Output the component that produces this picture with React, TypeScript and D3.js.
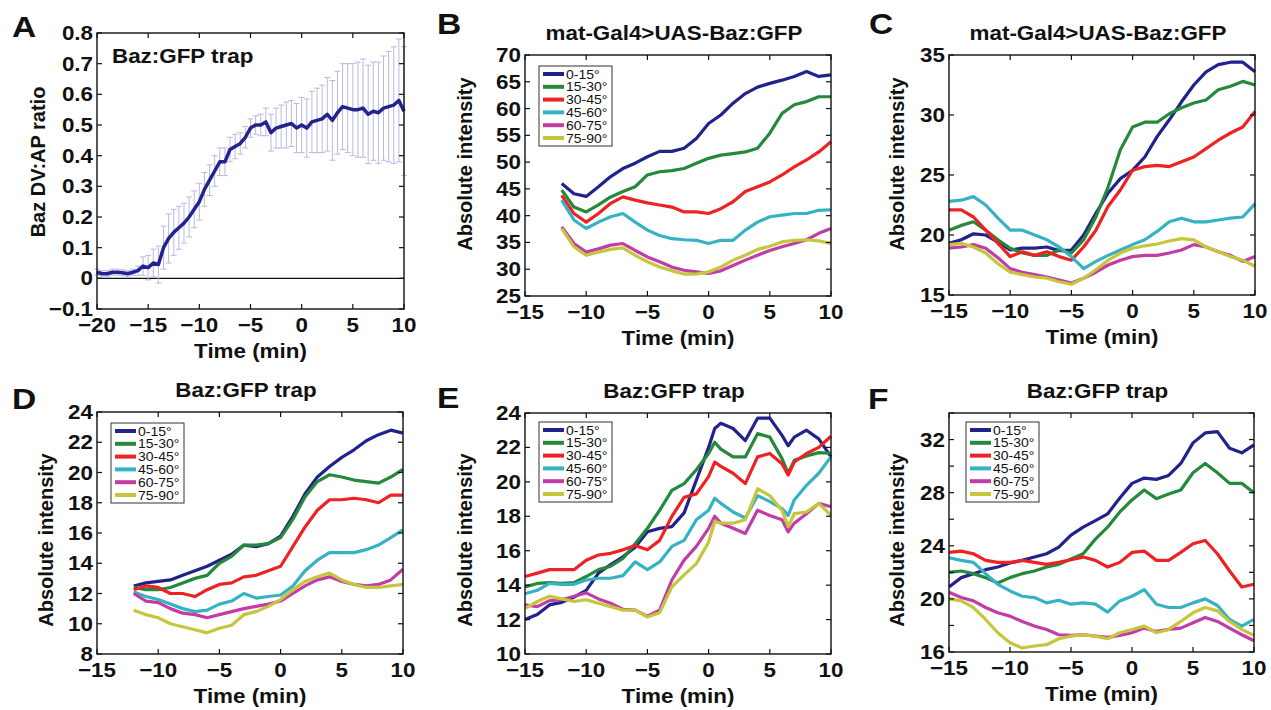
import React from "react";
import * as d3 from "d3";

const FONT = "'Liberation Sans', Arial, Helvetica, sans-serif";

const seriesNames = ["0-15°", "15-30°", "30-45°", "45-60°", "60-75°", "75-90°"];
const seriesColors = ["#22228c", "#24893a", "#ee2222", "#35b2c4", "#c23ca6", "#c6c63c"];

// panel A: Baz DV:AP ratio, mean and error bars
const timesA = [-20, -19.5, -19, -18.5, -18, -17.5, -17, -16.5, -16, -15.5, -15, -14.5, -14, -13.5, -13, -12.5, -12, -11.5, -11, -10.5, -10, -9.5, -9, -8.5, -8, -7.5, -7, -6.5, -6, -5.5, -5, -4.5, -4, -3.5, -3, -2.5, -2, -1.5, -1, -0.5, 0, 0.5, 1, 1.5, 2, 2.5, 3, 3.5, 4, 4.5, 5, 5.5, 6, 6.5, 7, 7.5, 8, 8.5, 9, 9.5, 10];
const ratioA = [0.02, 0.015, 0.015, 0.02, 0.02, 0.018, 0.015, 0.02, 0.025, 0.04, 0.035, 0.05, 0.045, 0.1, 0.13, 0.15, 0.165, 0.18, 0.2, 0.225, 0.25, 0.29, 0.32, 0.35, 0.38, 0.38, 0.42, 0.43, 0.44, 0.46, 0.49, 0.5, 0.5, 0.51, 0.475, 0.49, 0.495, 0.5, 0.505, 0.49, 0.5, 0.49, 0.51, 0.515, 0.52, 0.535, 0.515, 0.54, 0.56, 0.555, 0.55, 0.55, 0.555, 0.535, 0.545, 0.54, 0.555, 0.56, 0.565, 0.58, 0.545];
const errA = [0.01, 0.01, 0.01, 0.01, 0.01, 0.01, 0.01, 0.01, 0.015, 0.03, 0.04, 0.045, 0.06, 0.07, 0.08, 0.075, 0.07, 0.065, 0.065, 0.06, 0.06, 0.055, 0.05, 0.05, 0.045, 0.045, 0.04, 0.04, 0.035, 0.035, 0.03, 0.03, 0.035, 0.045, 0.06, 0.065, 0.07, 0.075, 0.075, 0.08, 0.09, 0.095, 0.1, 0.105, 0.11, 0.12, 0.13, 0.135, 0.14, 0.145, 0.15, 0.155, 0.16, 0.16, 0.16, 0.165, 0.17, 0.18, 0.19, 0.2, 0.21];

// panels B and D start at -12 min
const timesB = [-12, -11, -10, -9, -8, -7, -6, -5, -4, -3, -2, -1, 0, 1, 2, 3, 4, 5, 6, 7, 8, 9, 10];
const valuesB = [
  [46, 44.1, 43.6, 45.4, 47.3, 48.8, 49.8, 51, 52, 52, 52.6, 54.4, 57.2, 58.8, 61, 62.8, 64, 64.7, 65.3, 66, 66.9, 66, 66.3],
  [44.8, 41.6, 40.7, 42, 43.5, 44.5, 45.4, 47.6, 48.2, 48.4, 48.8, 49.8, 50.7, 51.3, 51.6, 51.9, 52.6, 55.4, 59.1, 60.7, 61.3, 62.2, 62.2],
  [43.8, 40.4, 38.8, 40.4, 42.3, 43.5, 42.9, 42.4, 42, 41.6, 40.7, 40.7, 40.4, 41.3, 42.6, 44.5, 45.4, 46.3, 47.6, 49.1, 50.4, 51.9, 53.8],
  [42.9, 39.2, 37.6, 38.8, 39.8, 40.4, 38.8, 37.3, 36.3, 35.7, 35.5, 35.4, 34.8, 35.4, 35.4, 37.3, 38.8, 39.8, 40.1, 40.4, 40.4, 41, 41.1],
  [37.9, 34.8, 33.2, 33.8, 34.5, 34.8, 33.5, 32.3, 31.4, 30.4, 29.8, 29.5, 29.2, 29.7, 30.7, 31.7, 32.6, 33.5, 34.2, 34.8, 35.5, 36.7, 37.6],
  [37.6, 34.2, 32.6, 33.2, 33.7, 34, 32.6, 31.4, 30.4, 29.7, 29.1, 29.1, 29.5, 30.4, 31.7, 32.6, 33.7, 34.3, 35.1, 35.4, 35.5, 35.3, 34.8],
];

const timesC = [-15, -14, -13, -12, -11, -10, -9, -8, -7, -6, -5, -4, -3, -2, -1, 0, 1, 2, 3, 4, 5, 6, 7, 8, 9, 10];
const valuesC = [
  [19.3, 19.6, 20.1, 20, 19.4, 18.75, 18.9, 18.9, 19, 18.7, 18.75, 20, 21.8, 23.5, 24.7, 25.4, 26.5, 28.2, 29.6, 31.1, 32.5, 33.6, 34.2, 34.4, 34.4, 33.6],
  [20.4, 20.8, 21.1, 20.4, 19.6, 18.9, 18.5, 18.3, 18.3, 18.75, 18.5, 19.6, 21.5, 24, 27.1, 29, 29.4, 29.4, 30.1, 30.6, 31, 31.25, 32.1, 32.4, 32.8, 32.5],
  [22.1, 22.1, 21.5, 20.4, 19.3, 18.2, 18.6, 18.3, 18.6, 18.2, 17.9, 19, 20.4, 22.4, 23.75, 25.4, 25.7, 25.8, 25.7, 26.1, 26.5, 27.2, 27.9, 28.5, 29, 30.3],
  [22.8, 22.9, 23.2, 22.5, 21.4, 20.4, 20.4, 20, 19.6, 19, 18.2, 17.2, 17.8, 18.3, 18.75, 19.2, 19.6, 20.3, 21.1, 21.4, 21.1, 21.1, 21.25, 21.4, 21.5, 22.6],
  [18.9, 19, 19.2, 18.9, 18.1, 17.2, 16.9, 16.7, 16.5, 16.25, 16, 16.4, 16.9, 17.5, 17.9, 18.2, 18.3, 18.3, 18.5, 18.75, 19.2, 19, 18.6, 18.3, 17.8, 18.2],
  [19.2, 19.3, 19, 18.5, 17.6, 16.9, 16.7, 16.5, 16.4, 16.1, 15.9, 16.4, 17.1, 17.9, 18.5, 18.9, 19.1, 19.25, 19.5, 19.7, 19.6, 19, 18.6, 18.2, 17.9, 17.4],
];

const timesD = [-12, -11, -10, -9, -8, -7, -6, -5, -4, -3, -2, -1, 0, 1, 2, 3, 4, 5, 6, 7, 8, 9, 10];
const valuesD = [
  [12.5, 12.7, 12.8, 12.9, 13.2, 13.5, 13.8, 14.2, 14.6, 15.2, 15.1, 15.3, 15.8, 17.1, 18.6, 19.7, 20.4, 21, 21.5, 22.1, 22.5, 22.8, 22.6],
  [12.4, 12.25, 12.25, 12.4, 12.7, 13, 13.2, 14, 14.45, 15.2, 15.2, 15.3, 15.7, 16.9, 18.4, 19.4, 19.85, 19.7, 19.5, 19.4, 19.3, 19.7, 20.2],
  [12.25, 12.5, 12.4, 12, 12, 11.8, 12.25, 12.6, 12.7, 13.1, 13.2, 13.5, 13.8, 15.1, 16.4, 17.5, 18.2, 18.2, 18.3, 18.2, 18, 18.5, 18.5],
  [12.1, 11.8, 11.6, 11.3, 11, 10.8, 10.9, 11.3, 11.5, 12, 11.7, 11.8, 11.9, 12.5, 13.5, 14.2, 14.7, 14.7, 14.7, 14.9, 15.2, 15.7, 16.2],
  [12, 11.5, 11.4, 11, 10.7, 10.6, 10.4, 10.6, 10.8, 11, 11.15, 11.3, 11.5, 12, 12.5, 12.9, 13.1, 12.8, 12.6, 12.5, 12.6, 12.9, 13.6],
  [10.9, 10.6, 10.4, 10, 9.8, 9.6, 9.4, 9.7, 9.9, 10.6, 10.8, 11.15, 11.6, 12.25, 12.8, 13.1, 13.35, 12.9, 12.6, 12.4, 12.4, 12.5, 12.6],
];

const timesE = [-15, -14, -13, -12, -11, -10, -9, -8, -7, -6, -5, -4, -3, -2, -1, 0, 0.5, 1, 2, 3, 4, 5, 6, 6.5, 7, 8, 9, 10];
const valuesE = [
  [12, 12.3, 12.85, 13, 13.3, 13.7, 14.7, 15.2, 15.65, 16.2, 17.1, 17.3, 17.4, 18.2, 20.1, 22, 23.1, 23.4, 23.1, 22.4, 23.7, 23.7, 22.7, 22.1, 22.6, 23, 22.5, 21.45],
  [13.9, 14.1, 14.15, 14.1, 14.15, 14.5, 14.9, 15.1, 15.55, 16.4, 17.3, 18.35, 19.5, 19.9, 20.7, 21.65, 22.3, 21.9, 21.45, 21.45, 22.8, 22.6, 21.35, 20.5, 21.25, 21.5, 21.7, 21.65],
  [14.5, 14.7, 14.9, 14.9, 14.9, 15.45, 15.75, 15.85, 16.05, 16.3, 16.05, 16.6, 18, 19.1, 19.3, 20.3, 21.15, 20.9, 20.5, 19.9, 21.45, 21.65, 21.05, 20.4, 21.15, 21.65, 22, 22.65],
  [13.5, 13.7, 14.1, 14.05, 14.05, 14.3, 14.4, 14.4, 14.55, 15.35, 14.9, 15.35, 16.25, 16.6, 17.8, 18.35, 19.05, 18.75, 18.25, 17.9, 19.2, 18.85, 18.45, 18.05, 18.95, 19.8, 20.5, 21.45],
  [12.85, 12.75, 13.1, 13.15, 13.35, 13.55, 13.2, 12.95, 12.6, 12.55, 12.2, 12.55, 14.3, 15.45, 16.25, 17.3, 18, 17.6, 17.3, 17, 18.35, 18.05, 17.8, 17.1, 17.6, 18.15, 18.75, 18.55],
  [12.65, 13.05, 13.35, 13.2, 13.05, 13.15, 12.95, 12.75, 12.55, 12.55, 12.15, 12.4, 13.9, 14.6, 15.25, 16.5, 17.7, 17.6, 17.6, 17.8, 19.6, 19.2, 18.35, 17.4, 18.15, 18.25, 18.75, 18.05],
];

const timesF = [-15, -14, -13, -12, -11, -10, -9, -8, -7, -6, -5, -4, -3, -2, -1, 0, 1, 2, 3, 4, 5, 6, 7, 8, 9, 10];
const valuesF = [
  [20.9, 21.6, 21.9, 22.2, 22.4, 22.7, 22.9, 23.15, 23.4, 23.9, 24.8, 25.4, 25.9, 26.4, 27.6, 28.7, 29.1, 29, 29.3, 30.2, 31.75, 32.5, 32.6, 31.35, 31, 31.6],
  [22, 22.1, 21.9, 21.6, 21.2, 21.6, 21.9, 22.1, 22.4, 22.6, 23, 23.4, 24.5, 25.4, 26.55, 27.45, 28.2, 27.55, 27.9, 28.2, 29.5, 30.2, 29.5, 28.7, 28.7, 28],
  [23.5, 23.6, 23.4, 22.9, 22.75, 22.75, 22.9, 22.75, 22.6, 22.75, 22.95, 23.15, 22.9, 22.4, 22.75, 23.5, 23.6, 22.9, 22.9, 23.5, 24.15, 24.4, 23.4, 22.1, 20.9, 21.1],
  [23.1, 22.9, 22.75, 21.9, 21.1, 20.6, 20.2, 20.1, 19.7, 19.9, 19.6, 19.7, 19.6, 19, 19.85, 20.2, 20.7, 19.6, 19.35, 19.35, 19.7, 20, 19.5, 18.45, 17.95, 18.45],
  [20.5, 20.1, 19.85, 19.35, 18.95, 18.7, 18.3, 17.95, 17.7, 17.3, 17.25, 17.3, 17.2, 17.1, 17.25, 17.45, 17.8, 17.55, 17.7, 17.8, 18.2, 18.6, 18.3, 17.8, 17.3, 16.85],
  [20, 19.85, 19.35, 18.45, 17.45, 16.7, 16.3, 16.45, 16.55, 17, 17.2, 17.3, 17.2, 17, 17.45, 17.7, 17.95, 17.45, 17.7, 18.3, 18.95, 19.35, 19.1, 18.3, 17.7, 17.25],
];

const ticksX20 = [-20, -15, -10, -5, 0, 5, 10];
const ticksX15 = [-15, -10, -5, 0, 5, 10];
const ticksYA = [-0.1, 0, 0.1, 0.2, 0.3, 0.4, 0.5, 0.6, 0.7, 0.8];
const ticksYB = [25, 30, 35, 40, 45, 50, 55, 60, 65, 70];
const ticksYC = [15, 20, 25, 30, 35];
const ticksYD = [8, 10, 12, 14, 16, 18, 20, 22, 24];
const ticksYE = [10, 12, 14, 16, 18, 20, 22, 24];
const ticksYF = [16, 18, 20, 22, 24, 26, 28, 30, 32, 34];
const labelsYF = [16, 20, 24, 28, 32];

const fmt = (v: number) => (v === 0 ? "0" : String(+v.toFixed(2)).replace("-", "\u2212"));

function T({ x, y, anchor = "middle", size = 20, sx = 1.12, rot = false, weight = "bold", children }: any) {
  const tf = rot
    ? `translate(${x},${y}) rotate(-90) scale(1,${sx})`
    : `translate(${x},${y}) scale(${sx},1)`;
  return (
    <text transform={tf} textAnchor={anchor} fontFamily={FONT} fontWeight={weight} fontSize={size} fill="#111">
      {children}
    </text>
  );
}

function Panel({ box, xDomain, yDomain, xTicks, yTicks, yLabels, times, series, legend, letter, letterPos, title, titleInside, ylabel, ylabelY, ylabelDx, children }: any) {
  const x = d3.scaleLinear().domain(xDomain).range([box.x0, box.x1]);
  const y = d3.scaleLinear().domain(yDomain).range([box.y1, box.y0]);
  const line = d3.line<number>().x((_, i) => x(times[i])).y((d) => y(d));
  const tl = 5;
  const labs = yLabels || yTicks;
  return (
    <g>
      {children && children(x, y)}
      {series &&
        series.map((s: number[], i: number) => (
          <path key={i} d={line(s) || ""} fill="none" stroke={seriesColors[i]} strokeWidth={3.2} strokeLinejoin="round" />
        ))}
      <rect x={box.x0} y={box.y0} width={box.x1 - box.x0} height={box.y1 - box.y0} fill="none" stroke="#111" strokeWidth={1.4} />
      {xTicks.map((t: number) => (
        <g key={"x" + t}>
          <line x1={x(t)} x2={x(t)} y1={box.y1} y2={box.y1 - tl} stroke="#111" strokeWidth={1.2} />
          <line x1={x(t)} x2={x(t)} y1={box.y0} y2={box.y0 + tl} stroke="#111" strokeWidth={1.2} />
          <T x={x(t)} y={box.y1 + 23}>{fmt(t)}</T>
        </g>
      ))}
      {yTicks.map((t: number) => (
        <g key={"y" + t}>
          <line x1={box.x0} x2={box.x0 + tl} y1={y(t)} y2={y(t)} stroke="#111" strokeWidth={1.2} />
          <line x1={box.x1} x2={box.x1 - tl} y1={y(t)} y2={y(t)} stroke="#111" strokeWidth={1.2} />
          {labs.includes(t) && <T x={box.x0 - 4} y={y(t) + 7} anchor="end">{fmt(t)}</T>}
        </g>
      ))}
      <T x={(box.x0 + box.x1) / 2} y={box.y1 + 49}>Time (min)</T>
      <T x={box.x0 + ylabelDx} y={ylabelY} rot={true} sx={1.05}>{ylabel}</T>
      <T x={letterPos[0]} y={letterPos[1]} anchor="start" size={30} sx={1.12}>{letter}</T>
      {title && !titleInside && <T x={(box.x0 + box.x1) / 2 - 4} y={box.y0 - 15}>{title}</T>}
      {title && titleInside && <T x={box.x0 + 15} y={box.y0 + 30} anchor="start">{title}</T>}
      {legend && (
        <g transform={`translate(${box.x0 + legend.dx},${box.y0 + legend.dy})`}>
          <rect x={0} y={0} width={73} height={80} fill="#fff" stroke="#333" strokeWidth={1} />
          {seriesNames.map((n, i) => (
            <g key={n}>
              <line x1={4} x2={25} y1={8 + i * 12.8} y2={8 + i * 12.8} stroke={seriesColors[i]} strokeWidth={4} />
              <T x={27} y={12.5 + i * 12.8} anchor="start" size={12.5} weight="normal" sx={1.12}>{n}</T>
            </g>
          ))}
        </g>
      )}
    </g>
  );
}

export default function App() {
  return (
    <svg width={1271} height={710} style={{ position: "absolute", left: 0, top: 0, background: "#fff" }}>
      <Panel
        box={{ x0: 97, x1: 404, y0: 33, y1: 309 }}
        xDomain={[-20, 10]}
        yDomain={[-0.1, 0.8]}
        xTicks={ticksX20}
        yTicks={ticksYA}
        times={timesA}
        letter="A"
        letterPos={[12, 37]}
        title="Baz:GFP trap"
        titleInside={true}
        ylabel="Baz DV:AP ratio"
        ylabelY={162}
        ylabelDx={-52}
      >
        {(x: any, y: any) => (
          <g>
            <line x1={x(-20)} x2={x(10)} y1={y(0)} y2={y(0)} stroke="#111" strokeWidth={1.2} />
            {timesA.map((t, i) => (
              <path
                key={t}
                d={`M${x(t)},${y(ratioA[i] - errA[i])}V${y(ratioA[i] + errA[i])}M${x(t) - 3},${y(ratioA[i] - errA[i])}h6M${x(t) - 3},${y(ratioA[i] + errA[i])}h6`}
                stroke="#b9b9e2"
                strokeWidth={1}
                fill="none"
              />
            ))}
            <path
              d={d3.line<number>().x((_, i) => x(timesA[i])).y((d) => y(d))(ratioA) || ""}
              fill="none"
              stroke="#23238f"
              strokeWidth={3.5}
              strokeLinejoin="round"
            />
          </g>
        )}
      </Panel>
      <Panel
        box={{ x0: 525, x1: 831, y0: 55, y1: 296 }}
        xDomain={[-15, 10]}
        yDomain={[25, 70]}
        xTicks={ticksX15}
        yTicks={ticksYB}
        times={timesB}
        series={valuesB}
        legend={{ dx: 14, dy: 11 }}
        letter="B"
        letterPos={[437, 34]}
        title="mat-Gal4>UAS-Baz:GFP"
        ylabel="Absolute intensity"
        ylabelY={164}
        ylabelDx={-53}
      />
      <Panel
        box={{ x0: 949, x1: 1255, y0: 55, y1: 295 }}
        xDomain={[-15, 10]}
        yDomain={[15, 35]}
        xTicks={ticksX15}
        yTicks={ticksYC}
        times={timesC}
        series={valuesC}
        letter="C"
        letterPos={[869, 34]}
        title="mat-Gal4>UAS-Baz:GFP"
        ylabel="Absolute intensity"
        ylabelY={164}
        ylabelDx={-45}
      />
      <Panel
        box={{ x0: 97, x1: 403, y0: 412, y1: 654 }}
        xDomain={[-15, 10]}
        yDomain={[8, 24]}
        xTicks={ticksX15}
        yTicks={ticksYD}
        times={timesD}
        series={valuesD}
        legend={{ dx: 14, dy: 11 }}
        letter="D"
        letterPos={[12, 409]}
        title="Baz:GFP trap"
        ylabel="Absolute intensity"
        ylabelY={540}
        ylabelDx={-44}
      />
      <Panel
        box={{ x0: 525, x1: 831, y0: 413, y1: 654 }}
        xDomain={[-15, 10]}
        yDomain={[10, 24]}
        xTicks={ticksX15}
        yTicks={ticksYE}
        times={timesE}
        series={valuesE}
        legend={{ dx: 14, dy: 9 }}
        letter="E"
        letterPos={[437, 408]}
        title="Baz:GFP trap"
        ylabel="Absolute intensity"
        ylabelY={540}
        ylabelDx={-53}
      />
      <Panel
        box={{ x0: 949, x1: 1254, y0: 413, y1: 652 }}
        xDomain={[-15, 10]}
        yDomain={[16, 34]}
        xTicks={ticksX15}
        yTicks={ticksYF}
        yLabels={labelsYF}
        times={timesF}
        series={valuesF}
        legend={{ dx: 17, dy: 9 }}
        letter="F"
        letterPos={[868, 409]}
        title="Baz:GFP trap"
        ylabel="Absolute intensity"
        ylabelY={540}
        ylabelDx={-45}
      />
    </svg>
  );
}
